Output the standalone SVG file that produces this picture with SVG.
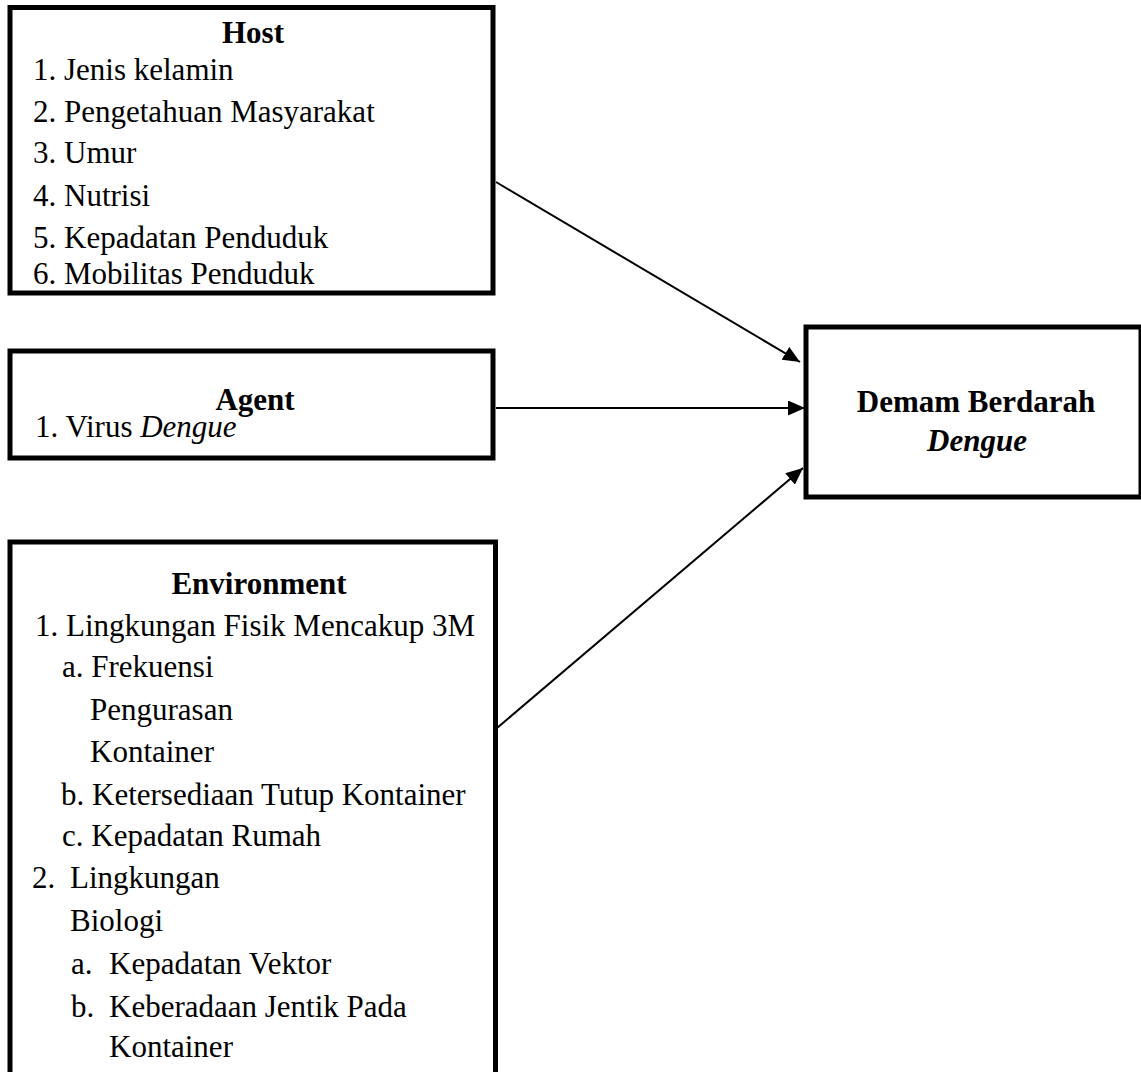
<svg xmlns="http://www.w3.org/2000/svg" width="1141" height="1072" viewBox="0 0 1141 1072">
<style>
.box{fill:#fff;stroke:#000;stroke-width:5}
text{font-family:"Liberation Serif","Times New Roman",serif;font-size:31px;fill:#000}
.h{font-weight:bold;text-anchor:middle}
.conn{stroke:#000;stroke-width:2;fill:none}
</style>
<defs>
<marker id="ah" viewBox="0 0 10 10" refX="10" refY="5" markerWidth="17" markerHeight="15" markerUnits="userSpaceOnUse" orient="auto" preserveAspectRatio="none">
<path d="M0,0 L10,5 L0,10 z" fill="#000"/>
</marker>
</defs>
<rect width="1141" height="1072" fill="#fff"/>
<g id="connectors">
<line class="conn" x1="496" y1="182" x2="800" y2="362" marker-end="url(#ah)"/>
<line class="conn" x1="496" y1="408" x2="805" y2="408" marker-end="url(#ah)"/>
<line class="conn" x1="497" y1="728" x2="803" y2="468" marker-end="url(#ah)"/>
</g>
<g id="host">
<rect class="box" x="10" y="7.5" width="483" height="285.5"/>
<text class="h" x="253" y="43">Host</text>
<text x="33" y="80">1. Jenis kelamin</text>
<text x="33" y="122">2. Pengetahuan Masyarakat</text>
<text x="33" y="163">3. Umur</text>
<text x="33" y="206">4. Nutrisi</text>
<text x="33" y="248">5. Kepadatan Penduduk</text>
<text x="33" y="284">6. Mobilitas Penduduk</text>
</g>
<g id="agent">
<rect class="box" x="10" y="351" width="483" height="107"/>
<text class="h" x="255" y="410">Agent</text>
<text x="35" y="437">1. Virus <tspan font-style="italic">Dengue</tspan></text>
</g>
<g id="environment">
<rect class="box" x="10" y="542" width="485.5" height="540"/>
<text class="h" x="259" y="594">Environment</text>
<text x="35" y="636">1. Lingkungan Fisik Mencakup 3M</text>
<text x="62" y="677">a. Frekuensi</text>
<text x="90" y="720">Pengurasan</text>
<text x="90" y="762">Kontainer</text>
<text x="61" y="805">b. Ketersediaan Tutup Kontainer</text>
<text x="62" y="846">c. Kepadatan Rumah</text>
<text x="32" y="888">2.</text>
<text x="70" y="888">Lingkungan</text>
<text x="70" y="931">Biologi</text>
<text x="71" y="974">a.</text>
<text x="109" y="974">Kepadatan Vektor</text>
<text x="71" y="1017">b.</text>
<text x="109" y="1017">Keberadaan Jentik Pada</text>
<text x="109" y="1057">Kontainer</text>
</g>
<g id="dbd">
<rect class="box" x="806" y="327" width="335" height="170"/>
<text class="h" x="976" y="412">Demam Berdarah</text>
<text class="h" x="977" y="451" font-style="italic">Dengue</text>
</g>
</svg>
